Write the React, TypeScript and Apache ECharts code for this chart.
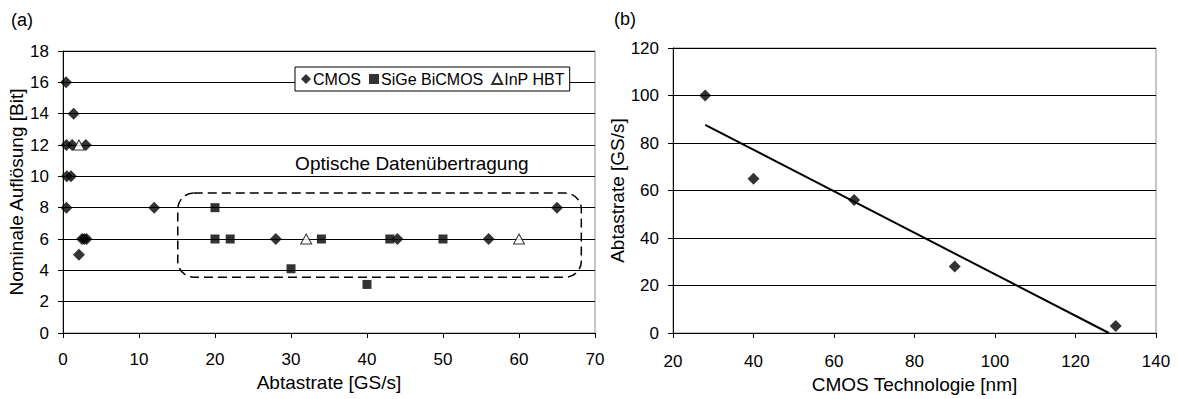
import React, { useEffect, useRef } from "react";
import * as echarts from "echarts";

// ---- Data (a) : nominal resolution vs. sampling rate ----
const cmosPoints: number[][] = [
  [0.4, 16], [1.4, 14], [0.45, 12], [1.2, 12], [3.0, 12], [0.5, 10], [1.05, 10],
  [0.45, 8], [12, 8], [2.5, 6], [2.8, 6], [3.1, 6], [2.1, 5], [28, 6], [44, 6], [56, 6], [65, 8],
];
const sigePoints: number[][] = [
  [20, 8], [20, 6], [22, 6], [34, 6], [43, 6], [50, 6], [30, 4.1], [40, 3.1],
];
const inpPoints: number[][] = [[2.1, 12], [32, 6], [60, 6]];

// ---- Data (b) : sampling rate vs. CMOS technology node ----
const techNm: number[] = [28, 40, 65, 90, 130];
const rateGS: number[] = [100, 65, 56, 28, 3];

// Annotation box (data coordinates of chart a)
const boxFrom = [15.1, 8.93];
const boxTo = [68.2, 3.56];
const boxLabelAt = [45.9, 10.8];
const boxLabel = "Optische Datenübertragung";

const FONT = "'Liberation Sans', Arial, sans-serif";

function linearFit(xs: number[], ys: number[]) {
  const n = xs.length;
  const mx = xs.reduce((a, b) => a + b, 0) / n;
  const my = ys.reduce((a, b) => a + b, 0) / n;
  let sxy = 0, sxx = 0;
  for (let i = 0; i < n; i++) {
    sxy += (xs[i] - mx) * (ys[i] - my);
    sxx += (xs[i] - mx) * (xs[i] - mx);
  }
  const k = sxy / sxx;
  return { k, d: my - k * mx };
}

export default function App() {
  const ref = useRef<HTMLDivElement>(null);
  useEffect(() => {
    if (!ref.current) return;
    const chart = echarts.init(ref.current, undefined, { renderer: "svg" });
    const fit = linearFit(techNm, rateGS);
    const xStart = techNm[0];
    const xZero = -fit.d / fit.k;
    const trend = [[xStart, fit.k * xStart + fit.d], [xZero, 0]];

    const tickLabel = { color: "#000", fontSize: 17, fontFamily: FONT };
    const nameStyle = { color: "#000", fontSize: 19, fontFamily: FONT };
    const blackLine = { lineStyle: { color: "#000", width: 1 } };

    chart.setOption({
      animation: false,
      backgroundColor: "#fff",
      textStyle: { fontFamily: FONT },
      grid: [
        { left: 63, right: 583, top: 51, bottom: 66, show: true, borderColor: "#8c8c8c", borderWidth: 1, backgroundColor: "transparent" },
        { left: 673, right: 22, top: 48, bottom: 64, show: true, borderColor: "#8c8c8c", borderWidth: 1, backgroundColor: "transparent" },
      ],
      legend: {
        data: ["CMOS", "SiGe BiCMOS", "InP HBT"],
        left: 295,
        top: 67,
        orient: "horizontal",
        backgroundColor: "#fff",
        borderColor: "#000",
        borderWidth: 1,
        padding: [4, 5, 4, 6],
        itemGap: 8,
        itemWidth: 10,
        itemHeight: 10,
        textStyle: { color: "#000", fontSize: 16, fontFamily: FONT, padding: [0, 0, 0, -3] },
      },
      xAxis: [
        {
          gridIndex: 0, type: "value", min: 0, max: 70, interval: 10,
          name: "Abtastrate [GS/s]", nameLocation: "middle", nameGap: 38, nameTextStyle: nameStyle,
          axisLine: { show: true, ...blackLine }, axisTick: { show: true, length: 5, ...blackLine },
          axisLabel: { ...tickLabel, margin: 18 }, splitLine: { show: false },
        },
        {
          gridIndex: 1, type: "value", min: 20, max: 140, interval: 20,
          name: "CMOS Technologie [nm]", nameLocation: "middle", nameGap: 42, nameTextStyle: nameStyle,
          axisLine: { show: true, ...blackLine }, axisTick: { show: true, length: 5, ...blackLine },
          axisLabel: { ...tickLabel, margin: 20 }, splitLine: { show: false },
        },
      ],
      yAxis: [
        {
          gridIndex: 0, type: "value", min: 0, max: 18, interval: 2,
          name: "Nominale Auflösung [Bit]", nameLocation: "middle", nameGap: 34, nameTextStyle: nameStyle,
          axisLine: { show: true, ...blackLine }, axisTick: { show: true, length: 5, ...blackLine },
          axisLabel: { ...tickLabel, margin: 14 }, splitLine: { show: true, ...blackLine },
        },
        {
          gridIndex: 1, type: "value", min: 0, max: 120, interval: 20,
          name: "Abtastrate [GS/s]", nameLocation: "middle", nameGap: 39, nameTextStyle: nameStyle,
          axisLine: { show: true, ...blackLine }, axisTick: { show: true, length: 5, ...blackLine },
          axisLabel: { ...tickLabel, margin: 14 }, splitLine: { show: true, ...blackLine },
        },
      ],
      series: [
        {
          name: "CMOS", type: "scatter", xAxisIndex: 0, yAxisIndex: 0, data: cmosPoints,
          symbol: "diamond", symbolSize: 12, itemStyle: { color: "#000" }, z: 5,
        },
        {
          name: "SiGe BiCMOS", type: "scatter", xAxisIndex: 0, yAxisIndex: 0, data: sigePoints,
          symbol: "rect", symbolSize: 9, itemStyle: { color: "#000" }, z: 5,
        },
        {
          name: "InP HBT", type: "scatter", xAxisIndex: 0, yAxisIndex: 0, data: inpPoints,
          symbol: "triangle", symbolSize: [11, 10], itemStyle: { color: "#fff", borderColor: "#000", borderWidth: 1 }, z: 5,
        },
        {
          name: "Abtastrate", type: "scatter", xAxisIndex: 1, yAxisIndex: 1,
          data: techNm.map((x, i) => [x, rateGS[i]]),
          symbol: "diamond", symbolSize: 12, itemStyle: { color: "#000" }, z: 5,
        },
        {
          name: "Trend", type: "line", xAxisIndex: 1, yAxisIndex: 1, data: trend,
          symbol: "none", lineStyle: { color: "#000", width: 2 }, z: 4,
        },
      ],
    });

    const p1 = chart.convertToPixel({ gridIndex: 0 }, boxFrom) as number[];
    const p2 = chart.convertToPixel({ gridIndex: 0 }, boxTo) as number[];
    const pl = chart.convertToPixel({ gridIndex: 0 }, boxLabelAt) as number[];
    chart.setOption({
      graphic: [
        {
          type: "rect", z: 3,
          shape: { x: p1[0], y: p1[1], width: p2[0] - p1[0], height: p2[1] - p1[1], r: 16 },
          style: { fill: "none", stroke: "#000", lineWidth: 1.5, lineDash: [9, 5] },
        },
        {
          type: "text", x: pl[0], y: pl[1], z: 6,
          style: { text: boxLabel, fill: "#000", font: `19px ${FONT}`, align: "center", verticalAlign: "middle" },
        },
        {
          type: "text", x: 22, y: 20,
          style: { text: "(a)", fill: "#000", font: `18px ${FONT}`, align: "center", verticalAlign: "middle" },
        },
        {
          type: "text", x: 625, y: 19,
          style: { text: "(b)", fill: "#000", font: `18px ${FONT}`, align: "center", verticalAlign: "middle" },
        },
      ],
    });

    return () => chart.dispose();
  }, []);
  return (
    <div
      ref={ref}
      style={{ position: "absolute", left: 0, top: 0, width: 1178, height: 399, background: "#fff" }}
    />
  );
}
